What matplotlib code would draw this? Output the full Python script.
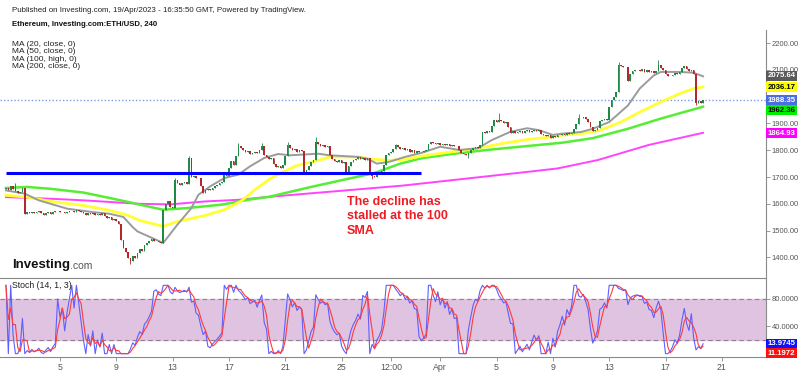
import matplotlib
matplotlib.use("Agg")
import matplotlib.pyplot as plt
import matplotlib.transforms as mtransforms
import numpy as np
import pandas as pd

plt.rcParams['font.family'] = ['Liberation Sans', 'DejaVu Sans']

# ETH/USD 4h candles (close of each candle)
first_open = 1655
closes = [
    1660, 1650, 1668, 1655, 1648, 1642, 1645, 1660, 1563, 1568,
    1565, 1570, 1566, 1568, 1572, 1565, 1560, 1566, 1569, 1563,
    1570, 1575, 1572, 1568, 1570, 1565, 1569, 1572, 1575, 1570,
    1578, 1574, 1570, 1566, 1560, 1565, 1562, 1566, 1558, 1562,
    1560, 1564, 1555, 1548, 1552, 1540, 1544, 1536, 1525, 1465,
    1435, 1420, 1398, 1388, 1405, 1398, 1418, 1432, 1425, 1448,
    1455, 1462, 1468, 1460, 1462, 1456, 1454, 1578, 1600, 1609,
    1590, 1586, 1690, 1678, 1672, 1676, 1680, 1674, 1771, 1700,
    1705, 1698, 1695, 1665, 1640, 1650, 1655, 1652, 1660, 1665,
    1670, 1676, 1680, 1709, 1705, 1735, 1758, 1746, 1780, 1814,
    1808, 1800, 1792, 1798, 1785, 1790, 1795, 1788, 1800, 1814,
    1783, 1775, 1768, 1770, 1750, 1738, 1742, 1735, 1745, 1780,
    1818, 1810, 1800, 1806, 1795, 1800, 1796, 1719, 1725, 1740,
    1755, 1762, 1831, 1822, 1815, 1818, 1812, 1815, 1781, 1768,
    1760, 1755, 1762, 1752, 1756, 1720, 1742, 1755, 1762, 1768,
    1775, 1768, 1772, 1765, 1770, 1720, 1705, 1700, 1710, 1715,
    1722, 1743, 1781, 1788, 1795, 1806, 1818, 1812, 1805, 1810,
    1800, 1804, 1795, 1800, 1790, 1796, 1792, 1795, 1798, 1800,
    1825, 1832, 1826, 1822, 1828, 1820, 1824, 1818, 1822, 1815,
    1818, 1814, 1816, 1800, 1790, 1785, 1782, 1790, 1801, 1808,
    1813, 1810, 1818, 1869, 1865, 1872, 1868, 1890, 1913, 1905,
    1912, 1908, 1902, 1906, 1885, 1866, 1870, 1864, 1868, 1872,
    1866, 1870, 1874, 1868, 1872, 1876, 1872, 1875, 1862, 1855,
    1852, 1856, 1845, 1852, 1848, 1855, 1858, 1862, 1858, 1865,
    1862, 1866, 1880, 1899, 1922, 1920, 1924, 1915, 1905, 1885,
    1870, 1876, 1884, 1910, 1912, 1918, 1914, 1960, 1986, 2000,
    2017, 2118, 2115, 2110, 2112, 2058, 2085, 2095, 2098, 2100,
    2095, 2102, 2092, 2098, 2090, 2096, 2088, 2094, 2117, 2108,
    2100, 2085, 2076, 2078, 2082, 2088, 2085, 2092, 2105, 2115,
    2102, 2096, 2100, 2085, 1975, 1982, 1978, 1988.35,
]
# visible wick extremes
spike_idx = [4, 53, 72, 78, 99, 109, 120, 132, 156, 166, 197, 210, 244, 261, 278, 294]
spike_val = [1677, 1375, 1698, 1780, 1827, 1827, 1830, 1849, 1694, 1825, 1770, 1937, 1936, 2130, 2135, 1967]

# moving averages (candle number, value)
ma20_x = [0, 8, 14, 26, 37, 44, 50, 54, 56, 67, 73, 79, 82, 87, 93, 99, 104, 110, 116, 121,
          133, 138, 150, 154, 158, 163, 170, 177, 185, 193, 201, 207, 215, 222, 227, 233,
          237, 245, 250, 257, 265, 270, 276, 279, 287, 293, 297]
ma20_y = [1650, 1638, 1613, 1582, 1569, 1563, 1551, 1513, 1497, 1454, 1522, 1584, 1634, 1665,
          1696, 1709, 1740, 1771, 1786, 1781, 1787, 1781, 1775, 1768, 1750, 1756, 1775, 1790,
          1813, 1801, 1807, 1838, 1869, 1882, 1875, 1857, 1862, 1868, 1880, 1905, 1967, 2030,
          2079, 2092, 2092, 2089, 2075.64]
ma50_x = [0, 9, 19, 33, 44, 52, 57, 67, 73, 85, 93, 100, 107, 113, 117, 124, 133, 138, 150,
          155, 163, 170, 177, 190, 201, 212, 223, 233, 237, 245, 253, 262, 270, 279, 287, 293, 297]
ma50_y = [1632, 1625, 1609, 1594, 1576, 1557, 1538, 1516, 1534, 1557, 1578, 1609, 1659, 1696,
          1715, 1743, 1762, 1775, 1775, 1768, 1762, 1766, 1778, 1794, 1807, 1826, 1841, 1850,
          1856, 1862, 1874, 1905, 1942, 1980, 2011, 2030, 2036.17]
ma100_x = [0, 9, 19, 33, 44, 52, 57, 67, 77, 92, 103, 112, 130, 144, 157, 168, 177, 190, 205,
           219, 237, 250, 265, 279, 297]
ma100_y = [1659, 1663, 1656, 1642, 1622, 1607, 1597, 1578, 1584, 1597, 1615, 1626, 1663, 1690,
           1715, 1750, 1770, 1786, 1801, 1813, 1828, 1845, 1880, 1918, 1962.36]
ma200_x = [0, 19, 33, 57, 70, 85, 99, 112, 169, 223, 235, 252, 274, 297]
ma200_y = [1625, 1619, 1613, 1600, 1598, 1609, 1615, 1626, 1668, 1720, 1732, 1763, 1820, 1864.93]

support_level = 1715
support_end = 177
last_price = 1988.35
stoch_k_last = "13.9745"
stoch_d_last = "11.1972"

price_ticks = [1400, 1500, 1600, 1700, 1800, 1900, 2000, 2100, 2200]
tick_dates = ['2023-03-05 00:00', '2023-03-09 00:00', '2023-03-13 00:00', '2023-03-17 00:00',
              '2023-03-21 00:00', '2023-03-25 00:00', '2023-03-28 12:00', '2023-04-01 00:00',
              '2023-04-05 00:00', '2023-04-09 00:00', '2023-04-13 00:00', '2023-04-17 00:00',
              '2023-04-21 00:00']
tick_labels = ['5', '9', '13', '17', '21', '25', '12:00', 'Apr', '5', '9', '13', '17', '21']
start = pd.Timestamp('2023-03-01 04:00')

# candle data frame
c = np.array(closes, dtype=float)
o = np.concatenate([[first_open], c[:-1]])
hi = np.maximum(o, c)
lo = np.minimum(o, c)
for i, v in zip(spike_idx, spike_val):
    if v > hi[i]:
        hi[i] = v
    elif v < lo[i]:
        lo[i] = v
df = pd.DataFrame({'open': o, 'high': hi, 'low': lo, 'close': c})
n = len(df)
x = np.arange(n)

# stochastic (14, 1, 3)
hh = df['high'].rolling(14, min_periods=1).max()
ll = df['low'].rolling(14, min_periods=1).min()
rng = (hh - ll).replace(0, np.nan)
k = (100 * (df['close'] - ll) / rng).fillna(50)
d = k.rolling(3, min_periods=1).mean()

tick_pos = (pd.to_datetime(tick_dates, format='%Y-%m-%d %H:%M') - start) / pd.Timedelta('4h')

W, H = 800, 372
fig = plt.figure(figsize=(W / 100, H / 100), dpi=100)
ax = fig.add_axes([0, 1 - 277 / H, 766 / W, 247 / H])
ax2 = fig.add_axes([0, 1 - 357 / H, 766 / W, 79 / H])

xl = (-6 / 2.347, (766 - 6) / 2.347)
grey = '#8a8a8a'

# ---- price panel
up_c, dn_c = '#1f8a45', '#b3282d'
cols = np.where(c >= o, up_c, dn_c)
ax.vlines(x, df['low'], df['high'], colors=cols, lw=0.6, zorder=3)
body = np.maximum(np.abs(c - o), 1.5)
ax.bar(x, body, bottom=np.minimum(o, c), width=0.7, color=cols, lw=0, zorder=3)

ax.plot(ma200_x, ma200_y, color='#ff44ff', lw=1.4, zorder=2)
ax.plot(ma100_x, ma100_y, color='#55ee33', lw=1.8, zorder=2)
ax.plot(ma50_x, ma50_y, color='#ffff33', lw=2.0, zorder=2)
ax.plot(ma20_x, ma20_y, color='#9b9b9b', lw=1.4, zorder=2)

ax.hlines(support_level, 0, support_end, color='#0000ff', lw=2.2, zorder=4)
ax.axhline(last_price, color='#7f9be6', lw=1.0, ls=(0, (1, 1.5)), zorder=1)

ax.set_xlim(*xl)
ax.set_ylim(1327, 2248.5)
for s in ['top', 'left', 'bottom']:
    ax.spines[s].set_visible(False)
ax.spines['right'].set_color(grey)
ax.yaxis.tick_right()
ax.set_yticks(price_ticks)
# 2000 sits under the last-price tag
ax.set_yticklabels(['' if v == 2000 else '%.2f' % v for v in price_ticks])
ax.tick_params(axis='y', length=3, width=0.6, color=grey, labelsize=5.5, labelcolor='#555555', pad=1)
ax.set_xticks([])

tr = mtransforms.blended_transform_factory(ax.transAxes, ax.transData)
labels = [(2075.64, '#5a5a5a', 'white'), (2036.17, '#ffff00', 'black'),
          (last_price, '#4a6ee0', 'white'), (1962.36, '#00ee00', 'black'),
          (1864.93, '#ff00ff', 'white')]
ypos = [2077, 2035, 1986, 1949, 1863]
for (v, bg, fg), yp in zip(labels, ypos):
    ax.text(1.002, yp, '%.2f' % v, transform=tr, ha='left', va='center', fontsize=5.6,
            fontweight='bold', color=fg, clip_on=False, zorder=10,
            bbox=dict(boxstyle='square,pad=0.2', fc=bg, ec='none'))

ax.text(145.3, 1630, 'The decline has\nstalled at the 100\nSMA', color='#ee1c25',
        fontsize=9.0, fontweight='bold', ha='left', va='top', linespacing=1.3, zorder=6)

# ---- stochastic panel
ax2.axhspan(20, 80, color='#e0c3e0', zorder=0)
ax2.axhline(80, color='#8f7f8f', lw=0.8, ls=(0, (4, 3)), zorder=1)
ax2.axhline(20, color='#8f7f8f', lw=0.8, ls=(0, (4, 3)), zorder=1)
ax2.plot(x, k, color='#5f5fff', lw=0.8, zorder=3)
ax2.plot(x, d, color='#ff3b3b', lw=0.8, zorder=3)
ax2.set_xlim(*xl)
ax2.set_ylim(-4.9, 110.7)
ax2.spines['left'].set_visible(False)
for s in ['top', 'bottom', 'right']:
    ax2.spines[s].set_color(grey)
ax2.yaxis.tick_right()
ax2.set_yticks([40, 80])
ax2.set_yticklabels(['40.0000', '80.0000'])
ax2.tick_params(axis='y', length=3, width=0.6, color=grey, labelsize=5.5, labelcolor='#555555', pad=1)
ax2.set_xticks(tick_pos)
ax2.set_xticklabels(tick_labels)
ax2.tick_params(axis='x', length=3, width=0.6, color=grey, labelsize=6.3, labelcolor='#555555', pad=1)
tr2 = mtransforms.blended_transform_factory(ax2.transAxes, ax2.transData)
ax2.text(1.002, 14.5, stoch_k_last, transform=tr2, ha='left', va='center', fontsize=5.6,
         fontweight='bold', color='white', clip_on=False,
         bbox=dict(boxstyle='square,pad=0.2', fc='#1010ff', ec='none'))
ax2.text(1.002, 0.5, stoch_d_last, transform=tr2, ha='left', va='center', fontsize=5.6,
         fontweight='bold', color='white', clip_on=False,
         bbox=dict(boxstyle='square,pad=0.2', fc='#ff1010', ec='none'))
ax2.text(12 / 766, 99, 'Stoch (14, 1, 3)', transform=tr2, fontsize=6.3, color='#222222',
         ha='left', va='center')

# ---- header and logo
fig.text(12 / W, 1 - 10.5 / H, 'Published on Investing.com, 19/Apr/2023 - 16:35:50 GMT, Powered by TradingView.',
         fontsize=5.7, color='#222222', va='center')
fig.text(12 / W, 1 - 24 / H, 'Ethereum, Investing.com:ETH/USD, 240', fontsize=5.6,
         fontweight='bold', color='#111111', va='center')
for j, t in enumerate(['MA (20, close, 0)', 'MA (50, close, 0)', 'MA (100, high, 0)', 'MA (200, close, 0)']):
    fig.text(12 / W, 1 - (44 + 7.6 * j) / H, t, fontsize=6.0, color='#222222', va='center')
fig.text(12 / W, 1 - 265 / H, 'Investing', fontsize=9.5, fontweight='bold', color='#111111', va='center')
fig.text(70 / W, 1 - 266 / H, '.com', fontsize=7.5, color='#555555', va='center')

fig.savefig('out.png', dpi=100)
